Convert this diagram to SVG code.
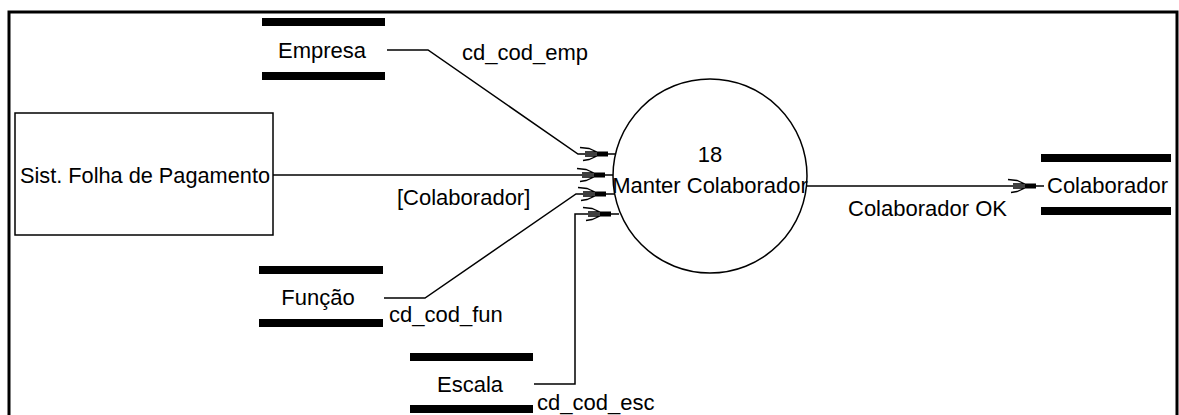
<svg xmlns="http://www.w3.org/2000/svg" width="1179" height="415" viewBox="0 0 1179 415">
  <defs>
    <style>
      text { font-family: "Liberation Sans", Arial, sans-serif; font-size: 22px; fill: #000; }
      .mid { text-anchor: middle; }
      .flow { fill: none; stroke: #000; stroke-width: 1.5; }
      .bar { fill: #000; }
      .shape { fill: #fff; stroke: #000; stroke-width: 1.5; }
    </style>
    <!-- open arrowhead: two slanted barbs plus a solid block at the tip -->
    <marker id="head" markerUnits="userSpaceOnUse" orient="auto" markerWidth="50" markerHeight="24" refX="0" refY="0" viewBox="-40 -12 50 24" overflow="visible">
      <path d="M-36,-6.5 L-27,-5.5 L-19,-2 M-33,6.5 L-27,5.5 L-19,2 M-31,-2 H-19 M-31,2 H-19" fill="none" stroke="#000" stroke-width="1.3"/>
      <rect x="-19" y="-2.5" width="11" height="5" fill="#000"/>
    </marker>
  </defs>

  <rect width="1179" height="415" fill="#fff"/>

  <!-- outer frame (open at the bottom) -->
  <path d="M9,415 V12 H1177 V415" fill="none" stroke="#000" stroke-width="3"/>

  <!-- data flows -->
  <g id="connectors">
    <path class="flow" d="M387,50 H428 L578,154 H616" marker-end="url(#head)"/>
    <path class="flow" d="M273,175 H613" marker-end="url(#head)"/>
    <path class="flow" d="M384,298 H425 L576,194 H614" marker-end="url(#head)"/>
    <path class="flow" d="M534,384 H575 V214 H619" marker-end="url(#head)"/>
    <path class="flow" d="M807,186 H1044" marker-end="url(#head)"/>
    <text x="462" y="60">cd_cod_emp</text>
    <text x="397" y="205">[Colaborador]</text>
    <text x="389" y="322">cd_cod_fun</text>
    <text x="537" y="410">cd_cod_esc</text>
    <text x="848" y="216">Colaborador OK</text>
  </g>

  <!-- external entity -->
  <g id="sist-folha">
    <rect class="shape" x="15" y="113" width="258" height="122"/>
    <text x="20" y="183" textLength="250" lengthAdjust="spacingAndGlyphs">Sist. Folha de Pagamento</text>
  </g>

  <!-- process -->
  <g id="manter-colaborador">
    <circle class="shape" cx="710" cy="176" r="97"/>
    <text class="mid" x="710" y="162">18</text>
    <text class="mid" x="710" y="193">Manter Colaborador</text>
  </g>

  <!-- data stores -->
  <g id="store-empresa">
    <rect class="bar" x="262" y="18" width="123" height="8"/>
    <rect class="bar" x="262" y="72" width="123" height="8"/>
    <text class="mid" x="322" y="58">Empresa</text>
  </g>

  <g id="store-funcao">
    <rect class="bar" x="259" y="266" width="124" height="8"/>
    <rect class="bar" x="259" y="319" width="124" height="8"/>
    <text class="mid" x="318" y="305">Função</text>
  </g>

  <g id="store-escala">
    <rect class="bar" x="410" y="353" width="123" height="8"/>
    <rect class="bar" x="410" y="405" width="123" height="8"/>
    <text class="mid" x="470" y="392">Escala</text>
  </g>

  <g id="store-colaborador">
    <rect class="bar" x="1041" y="154" width="130" height="8"/>
    <rect class="bar" x="1041" y="207" width="130" height="8"/>
    <text x="1047" y="193">Colaborador</text>
  </g>
</svg>
